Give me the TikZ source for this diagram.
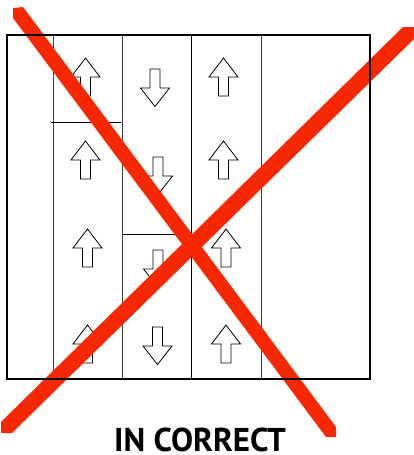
\documentclass[tikz,border=0pt]{standalone}
\usepackage{fontspec}
\newfontfamily\labelfont{PT Sans}
\definecolor{crossred}{RGB}{246,40,2}
\begin{document}
\begin{tikzpicture}[x=1pt,y=-1pt,
  thinline/.style={line width=0.9pt,black!75},
  divline/.style={line width=0.9pt,black},
  frame/.style={line width=2.6pt,black},
  arrowline/.style={line width=0.8pt,black,fill=white,line join=miter},
  uparrow/.pic={\draw[arrowline] (0,0) -- (14.5,19) -- (5,19) -- (5,38) -- (-5,38) -- (-5,19) -- (-14.5,19) -- cycle;},
  downarrow/.pic={\draw[arrowline] (-5,0) -- (5,0) -- (5,19) -- (14.5,19) -- (0,37.5) -- (-14.5,19) -- (-5,19) -- cycle;},
  cross/.style={fill=crossred,draw=none}]
\useasboundingbox (0,0) rectangle (414,455);
% column lines
\draw[thinline] (53,35) -- (53,380);
\draw[thinline] (122,35) -- (122,380);
\draw[divline] (191,35) -- (191,380);
\draw[thinline] (261,35) -- (261,380);
% horizontal dividers
\draw[divline] (51,122) -- (121,122);
\draw[divline] (122,234) -- (191,234);
% column 1 arrows (up)
\pic at (85.5,58) {uparrow};
\pic at (85.5,141) {uparrow};
\pic at (87.5,229) {uparrow};
\pic at (87.5,325) {uparrow};
% column 2 arrows (down)
\pic at (155,69) {downarrow};
\pic at (158,157) {downarrow};
\pic at (158,250) {downarrow};
\pic at (157.5,327) {downarrow};
% column 3 arrows (up)
\pic at (223.5,58) {uparrow};
\pic at (223.5,141) {uparrow};
\pic at (226,229) {uparrow};
\pic at (226,325) {uparrow};
% red cross
\fill[cross] (13,8) -- (23,7) -- (336,427) -- (336,437) -- (326,437) -- (13,18) -- cycle;
\fill[cross] (1,422) -- (403,27) -- (414,27) -- (414,39) -- (12,433) -- (1,433) -- cycle;
% outer frame
\draw[frame] (7,35) rectangle (370,379);
% label
\node[anchor=base,inner sep=0pt,text depth=0pt,font=\labelfont\bfseries\fontsize{33}{36}\selectfont] (label) at (200,451) {IN CORRECT};
\end{tikzpicture}
\end{document}
